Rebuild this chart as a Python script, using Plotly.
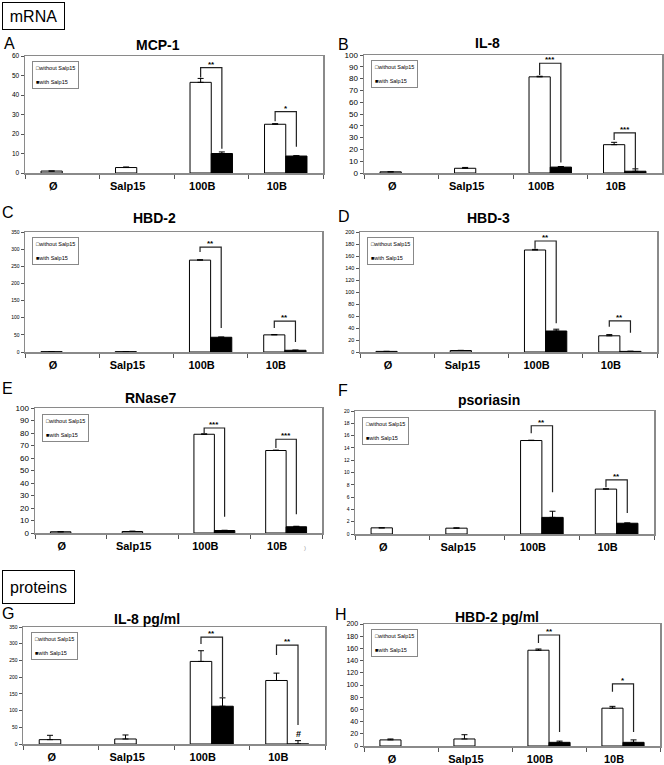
import plotly.graph_objects as go

# ---------------- data ----------------
categories = ["Ø", "Salp15", "100B", "10B"]

mcp1_without = [1.0, 2.8, 46.5, 25.0]
mcp1_without_err = [0, 0.3, 2.0, 0.3]
mcp1_with = [None, None, 10.0, 8.7]
mcp1_with_err = [0, 0, 0.8, 0.2]

il8_without = [1.0, 4.0, 81.5, 24.0]
il8_without_err = [0, 0.7, 0.5, 2.0]
il8_with = [None, None, 5.0, 1.5]
il8_with_err = [0, 0, 0.5, 2.0]

hbd2_without = [1.0, 1.0, 268.0, 50.0]
hbd2_without_err = [0, 0, 1.0, 1.0]
hbd2_with = [None, None, 43.0, 5.0]
hbd2_with_err = [0, 0, 0.5, 0.5]

hbd3_without = [1.0, 2.5, 170.0, 27.0]
hbd3_without_err = [0, 0.3, 1.0, 2.0]
hbd3_with = [None, None, 35.0, 1.0]
hbd3_with_err = [0, 0, 3.0, 0.3]

rnase7_without = [1.0, 1.2, 79.0, 66.0]
rnase7_without_err = [0, 0.3, 0.3, 0.3]
rnase7_with = [None, None, 2.0, 5.0]
rnase7_with_err = [0, 0, 0.2, 0.4]

psoriasin_without = [1.0, 0.95, 15.2, 7.3]
psoriasin_without_err = [0, 0.05, 0.05, 0.05]
psoriasin_with = [None, None, 2.7, 1.75]
psoriasin_with_err = [0, 0, 1.0, 0.05]

il8_prot_without = [13.0, 15.0, 247.0, 190.0]
il8_prot_without_err = [13.0, 12.0, 32.0, 22.0]
il8_prot_with = [None, None, 113.0, 0.0]
il8_prot_with_err = [0, 0, 25.0, 10.0]

hbd2_prot_without = [10.0, 11.5, 157.0, 62.0]
hbd2_prot_without_err = [1.5, 7.0, 2.0, 3.0]
hbd2_prot_with = [None, None, 6.0, 6.0]
hbd2_prot_with_err = [0, 0, 2.0, 4.0]

# significance brackets: (category, bracket top, left leg bottom, right leg bottom, label)
mcp1_sig = [("100B", 54, 49, 12.5, "**"), ("10B", 31.5, 26.5, 13.5, "*")]
il8_sig = [("100B", 93, 83, 9, "***"), ("10B", 34, 28, 3, "***")]
hbd2_sig = [("100B", 306, 292, 70, "**"), ("10B", 90, 70, 29, "**")]
hbd3_sig = [("100B", 185, 172, 48, "**"), ("10B", 52, 42, 32, "**")]
rnase7_sig = [("100B", 84, 80, 13, "***"), ("10B", 75, 68, 15, "***")]
psoriasin_sig = [("100B", 17.6, 16.4, 6.8, "**"), ("10B", 8.8, 7.6, 3.4, "**")]
il8_prot_sig = [("100B", 320, 299, 140, "**"), ("10B", 296, 266, 57, "**")]
hbd2_prot_sig = [("100B", 182, 169, 23, "**"), ("10B", 102, 89, 23, "*")]

series_names = ["without Salp15", "with Salp15"]

# ---------------- layout helpers ----------------
W, H = 664, 765
FONT = "Liberation Sans, Arial, sans-serif"
BARGAP = 0.43
OFF = (1 - BARGAP) / 4.0


def px(x):
    return x / W


def py(y):
    return 1 - y / H


panels = [
    dict(letter="A", title="MCP-1", box=(25, 56, 323, 173), lpos=(2, 43), tpos=(158, 45),
         rng=60, dtick=10, tfs=6.5,
         data=(mcp1_without, mcp1_without_err, mcp1_with, mcp1_with_err), sig=mcp1_sig),
    dict(letter="B", title="IL-8", box=(364, 55, 662, 173), lpos=(336, 44), tpos=(487, 43),
         rng=100, dtick=10, tfs=8,
         data=(il8_without, il8_without_err, il8_with, il8_with_err), sig=il8_sig),
    dict(letter="C", title="HBD-2", box=(25, 232, 322, 352), lpos=(0, 212), tpos=(154, 218),
         rng=350, dtick=50, tfs=5,
         data=(hbd2_without, hbd2_without_err, hbd2_with, hbd2_with_err), sig=hbd2_sig),
    dict(letter="D", title="HBD-3", box=(360, 232, 657, 352), lpos=(336, 216), tpos=(488, 218),
         rng=200, dtick=20, tfs=5.5,
         data=(hbd3_without, hbd3_without_err, hbd3_with, hbd3_with_err), sig=hbd3_sig),
    dict(letter="E", title="RNase7", box=(35, 408, 322, 533), lpos=(0, 388), tpos=(151, 398),
         rng=100, dtick=10, tfs=8,
         data=(rnase7_without, rnase7_without_err, rnase7_with, rnase7_with_err), sig=rnase7_sig),
    dict(letter="F", title="psoriasin", box=(355, 411, 654, 534), lpos=(336, 391), tpos=(489, 400),
         rng=20, dtick=2, tfs=5,
         data=(psoriasin_without, psoriasin_without_err, psoriasin_with, psoriasin_with_err),
         sig=psoriasin_sig),
    dict(letter="G", title="IL-8 pg/ml", box=(23, 627, 325, 744), lpos=(0, 613), tpos=(147, 619),
         rng=350, dtick=50, tfs=5,
         data=(il8_prot_without, il8_prot_without_err, il8_prot_with, il8_prot_with_err),
         sig=il8_prot_sig),
    dict(letter="H", title="HBD-2 pg/ml", box=(364, 624, 660, 746), lpos=(333, 614), tpos=(497, 617),
         rng=200, dtick=20, tfs=7,
         data=(hbd2_prot_without, hbd2_prot_without_err, hbd2_prot_with, hbd2_prot_with_err),
         sig=hbd2_prot_sig),
]

fig = go.Figure()
annotations = []
shapes = []
layout = {}

for k, p in enumerate(panels, start=1):
    sx = "" if k == 1 else str(k)
    xa, ya = "x" + sx, "y" + sx
    wo, wo_err, wi, wi_err = p["data"]
    fig.add_trace(go.Bar(
        x=categories, y=wo, name=series_names[0], xaxis=xa, yaxis=ya,
        marker=dict(color="white", line=dict(color="black", width=1)),
        error_y=dict(type="data", symmetric=False, array=wo_err, arrayminus=[0] * 4,
                     color="black", thickness=1, width=3),
        showlegend=False,
    ))
    fig.add_trace(go.Bar(
        x=categories, y=wi, name=series_names[1], xaxis=xa, yaxis=ya,
        marker=dict(color="black", line=dict(color="black", width=1)),
        error_y=dict(type="data", symmetric=False, array=wi_err, arrayminus=[0] * 4,
                     color="black", thickness=1, width=3),
        showlegend=False,
    ))
    x0, y0, x1, y1 = p["box"]
    layout["xaxis" + sx] = dict(
        domain=[px(x0), px(x1)], anchor=ya, type="category", automargin=False,
        categoryorder="array", categoryarray=categories,
        showline=True, mirror=True, linecolor="#8a8a8a", linewidth=1.5,
        ticks="outside", tickson="boundaries", ticklen=4, tickcolor="#555",
        tickfont=dict(family=FONT, size=11, color="black", weight="bold"),
        ticklabelshift=-9, ticklabelstandoff=2,
        showgrid=False, zeroline=False, fixedrange=True,
    )
    layout["yaxis" + sx] = dict(
        domain=[py(y1), py(y0)], anchor=xa, range=[0, p["rng"]], dtick=p["dtick"],
        automargin=False,
        showline=True, mirror=True, linecolor="#8a8a8a", linewidth=1.5,
        ticks="outside", ticklen=3, tickcolor="#555",
        tickfont=dict(family=FONT, size=p["tfs"], color="black"),
        showgrid=False, zeroline=False, fixedrange=True,
    )
    # panel letter and title
    annotations.append(dict(xref="paper", yref="paper", x=px(p["lpos"][0]), y=py(p["lpos"][1]),
                            xanchor="left", yanchor="middle", showarrow=False, text=p["letter"],
                            font=dict(family=FONT, size=16, color="black")))
    annotations.append(dict(xref="paper", yref="paper", x=px(p["tpos"][0]), y=py(p["tpos"][1]),
                            xanchor="center", yanchor="middle", showarrow=False, text=p["title"],
                            font=dict(family=FONT, size=14, color="black", weight="bold")))
    # legend box
    annotations.append(dict(xref=xa + " domain", yref=ya + " domain", x=0.025, y=0.955,
                            xanchor="left", yanchor="top", showarrow=False, align="left",
                            text="□without Salp15<br><br>■with Salp15",
                            font=dict(family=FONT, size=5.5, color="black"),
                            bordercolor="#888", borderwidth=1, borderpad=3,
                            bgcolor="white"))
    # significance brackets
    for cat, top, lb, rb, lab in p["sig"]:
        i = categories.index(cat)
        xl, xr = i - OFF, i + OFF
        shapes.append(dict(type="path", xref=xa, yref=ya,
                           path=f"M {xl} {lb} L {xl} {top} L {xr} {top} L {xr} {rb}",
                           line=dict(color="#222", width=1.2)))
        annotations.append(dict(xref=xa, yref=ya, x=i, y=top, xanchor="center", yanchor="bottom",
                                showarrow=False, text=lab, yshift=-3,
                                font=dict(family=FONT, size=8, color="black", weight="bold")))

# "#" mark for panel G (10B with Salp15)
annotations.append(dict(xref="x7", yref="y7", x=categories.index("10B") + OFF, y=31,
                        xanchor="center", yanchor="middle", showarrow=False, text="#",
                        font=dict(family=FONT, size=9, color="black", weight="bold")))

# section labels
annotations.append(dict(xref="paper", yref="paper", x=px(2), y=py(2), xanchor="left", yanchor="top",
                        showarrow=False, text="mRNA", width=55, height=20,
                        font=dict(family=FONT, size=16, color="black"),
                        bordercolor="black", borderwidth=1, borderpad=3))
annotations.append(dict(xref="paper", yref="paper", x=px(2), y=py(570), xanchor="left", yanchor="top",
                        showarrow=False, text="proteins", width=65, height=26,
                        font=dict(family=FONT, size=16, color="black"),
                        bordercolor="black", borderwidth=1, borderpad=3))
# small stray mark in panel E
annotations.append(dict(xref="paper", yref="paper", x=px(305), y=py(548), xanchor="center",
                        yanchor="middle", showarrow=False, text=")",
                        font=dict(family=FONT, size=6, color="#999")))

fig.update_layout(
    width=W, height=H, margin=dict(l=0, r=0, t=0, b=0, autoexpand=False),
    paper_bgcolor="white", plot_bgcolor="white",
    barmode="group", bargap=BARGAP, bargroupgap=0,
    showlegend=False,
    annotations=annotations, shapes=shapes,
    font=dict(family=FONT),
    **layout,
)

fig.write_html(
    "out.html",
    config={"displayModeBar": False, "staticPlot": True},
    post_script="document.body.style.margin='0';document.body.style.overflow='hidden';",
)
